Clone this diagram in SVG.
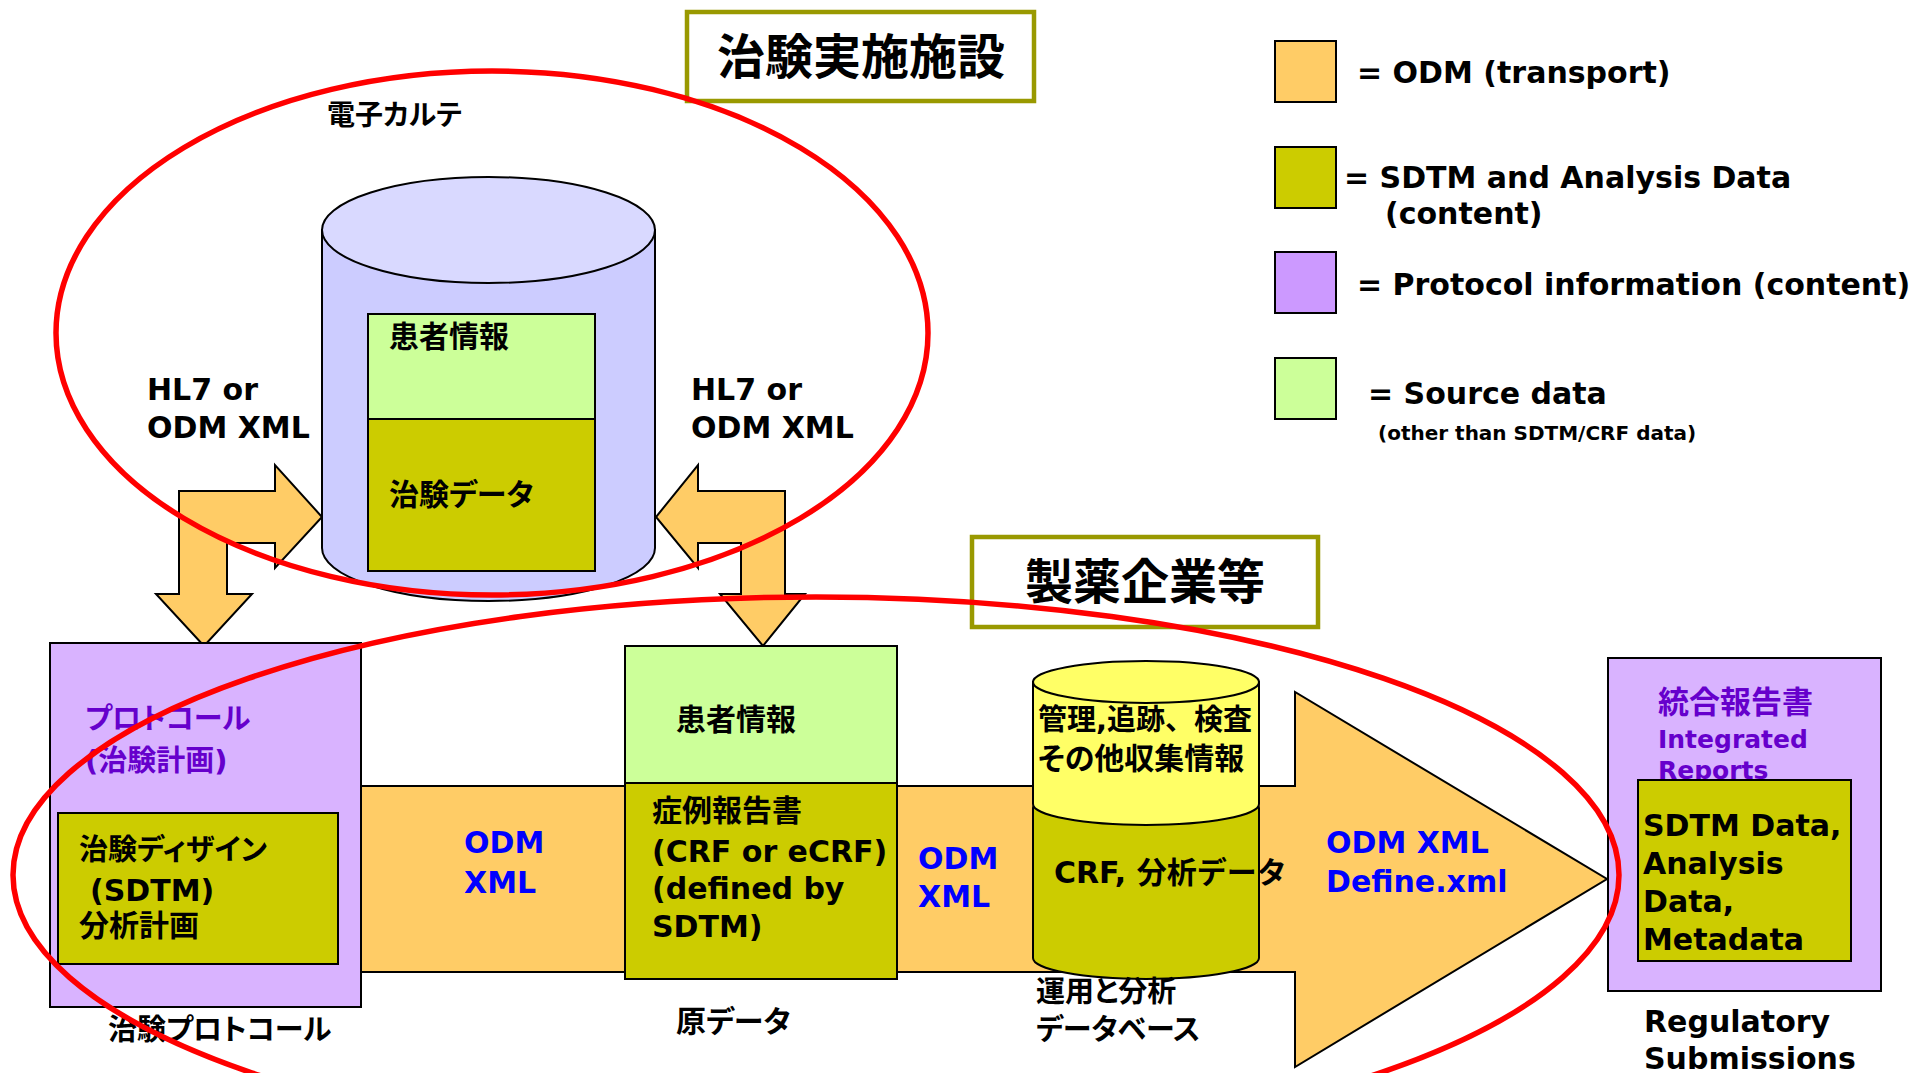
<svg xmlns="http://www.w3.org/2000/svg" width="1914" height="1073" viewBox="0 0 1914 1073">
<style>
.t{font-family:'DejaVu Sans','Noto Sans CJK JP',sans-serif;font-weight:bold;font-size:30px;fill:#000}
.j{font-family:'Noto Sans CJK JP',sans-serif;font-weight:bold;font-size:30px;fill:#000;font-feature-settings:"palt"}
.blue{fill:#0000FF}
.pur{fill:#6600CC}
.bx{stroke:#000;stroke-width:2}
.title{fill:#fff;stroke:#999900;stroke-width:4.5}
.arr{fill:#FFCC66;stroke:#000;stroke-width:2;stroke-linejoin:miter}
.region{fill:none;stroke:#FF0000;stroke-width:5.5}
</style>
<rect width="1914" height="1073" fill="#fff"/>

<g id="connectors">
  <polygon id="main-arrow" class="arr" points="330,786 1295,786 1295,692 1607,879 1295,1067 1295,972 330,972"/>
  <polygon id="arrow-left" class="arr" points="179,491 275,491 275,465 322,517 275,568 275,543 227,543 227,594 252,594 204,646 156,594 179,594"/>
  <polygon id="arrow-right" class="arr" points="785,491 698,491 698,465 656,517 698,568 698,543 741,543 741,594 720,594 763,646 805,594 785,594"/>
</g>

<g id="ehr-db">
  <path class="bx" fill="#CCCCFF" d="M322,230 V548 A166.5,53 0 0 0 655,548 V230 Z"/>
  <ellipse class="bx" fill="#D9D9FF" cx="488.5" cy="230" rx="166.5" ry="53"/>
  <rect class="bx" fill="#CCFF99" x="368" y="314" width="227" height="105"/>
  <rect class="bx" fill="#CCCC00" x="368" y="419" width="227" height="152"/>
  <text class="j" x="389" y="347" style="font-size:30px">患者情報</text>
  <text class="j" x="389" y="505" style="font-size:30px">治験データ</text>
</g>
<text class="j" x="327" y="125" style="font-size:28px">電子カルテ</text>

<g id="hl7-labels">
  <text class="t" x="147" y="400">HL7 or</text>
  <text class="t" x="147" y="438">ODM XML</text>
  <text class="t" x="691" y="400">HL7 or</text>
  <text class="t" x="691" y="438">ODM XML</text>
</g>

<g id="title-site">
  <rect class="title" x="687" y="12" width="347" height="89"/>
  <text class="j" x="861" y="74" text-anchor="middle" style="font-size:48px">治験実施施設</text>
</g>

<g id="title-pharma">
  <rect class="title" x="972" y="537" width="346" height="90"/>
  <text class="j" x="1145" y="599" text-anchor="middle" style="font-size:48px">製薬企業等</text>
</g>

<g id="legend">
  <g id="legend-odm">
    <rect class="bx" fill="#FFCC66" x="1275" y="41" width="61" height="61"/>
    <text class="t" x="1357" y="83">= ODM (transport)</text>
  </g>
  <g id="legend-sdtm">
    <rect class="bx" fill="#CCCC00" x="1275" y="147" width="61" height="61"/>
    <text class="t" x="1344" y="188">= SDTM and Analysis Data</text>
    <text class="t" x="1385" y="224">(content)</text>
  </g>
  <g id="legend-protocol">
    <rect class="bx" fill="#CC99FF" x="1275" y="252" width="61" height="61"/>
    <text class="t" x="1357" y="295">= Protocol information (content)</text>
  </g>
  <g id="legend-source">
    <rect class="bx" fill="#CCFF99" x="1275" y="358" width="61" height="61"/>
    <text class="t" x="1368" y="404">= Source data</text>
    <text class="t" x="1378" y="440" style="font-size:20px">(other than SDTM/CRF data)</text>
  </g>
</g>

<g id="protocol">
  <rect class="bx" fill="#D9B3FF" x="50" y="643" width="311" height="364"/>
  <text class="j pur" x="85" y="729" style="font-size:29px">プロトコール</text>
  <text class="t pur" x="85" y="771" style="font-size:29px">(治験計画)</text>
  <rect class="bx" fill="#CCCC00" x="58" y="813" width="280" height="151"/>
  <text class="j" x="79" y="860" style="font-size:29px">治験ディザイン</text>
  <text class="t" x="90" y="901">(SDTM)</text>
  <text class="j" x="79" y="936" style="font-size:30px">分析計画</text>
</g>
<text class="j" x="108" y="1040" style="font-size:29px">治験プロトコール</text>

<text class="t blue" x="464" y="853">ODM</text>
<text class="t blue" x="464" y="893">XML</text>

<g id="source-data">
  <rect class="bx" fill="#CCFF99" x="625" y="646" width="272" height="137"/>
  <rect class="bx" fill="#CCCC00" x="625" y="783" width="272" height="196"/>
  <text class="j" x="676" y="730" style="font-size:30px">患者情報</text>
  <text class="t" x="652" y="821">症例報告書</text>
  <text class="t" x="652" y="862">(CRF or eCRF)</text>
  <text class="t" x="652" y="899">(defined by</text>
  <text class="t" x="652" y="937">SDTM)</text>
</g>
<text class="j" x="676" y="1032" style="font-size:30px">原データ</text>

<text class="t blue" x="918" y="869">ODM</text>
<text class="t blue" x="918" y="907">XML</text>

<g id="ops-db">
  <path class="bx" fill="#CCCC00" d="M1033,808 V958 A113,21 0 0 0 1259,958 V808 A113,21 0 0 0 1033,808 Z"/>
  <path class="bx" fill="#FFFF66" d="M1033,682 V804 A113,21 0 0 0 1259,804 V682 Z"/>
  <ellipse class="bx" fill="#FFFF66" cx="1146" cy="682" rx="113" ry="21"/>
  <text class="t" x="1038" y="730" style="font-size:29px">管理,追跡、検査</text>
  <text class="j" x="1038" y="769" style="font-size:30px">その他収集情報</text>
  <text class="t" x="1054" y="883">CRF, 分析データ</text>
</g>
<text class="j" x="1036" y="1002" style="font-size:29px">運用と分析</text>
<text class="j" x="1036" y="1040" style="font-size:29px">データベース</text>

<text class="t blue" x="1326" y="853">ODM XML</text>
<text class="t blue" x="1326" y="892">Define.xml</text>

<g id="reports">
  <rect class="bx" fill="#D9B3FF" x="1608" y="658" width="273" height="333"/>
  <text class="j pur" x="1658" y="713" style="font-size:31px">統合報告書</text>
  <text class="t pur" x="1658" y="748" style="font-size:25px">Integrated</text>
  <text class="t pur" x="1658" y="779" style="font-size:25px">Reports</text>
  <rect class="bx" fill="#CCCC00" x="1638" y="780" width="213" height="181"/>
  <text class="t" x="1643" y="836">SDTM Data,</text>
  <text class="t" x="1643" y="874">Analysis</text>
  <text class="t" x="1643" y="912">Data,</text>
  <text class="t" x="1643" y="950">Metadata</text>
</g>
<text class="t" x="1644" y="1032">Regulatory</text>
<text class="t" x="1644" y="1069">Submissions</text>

<g id="regions">
  <ellipse id="region-site" class="region" cx="492" cy="333" rx="436" ry="262"/>
  <ellipse id="region-pharma" class="region" cx="816" cy="875" rx="803" ry="278"/>
</g>
</svg>
